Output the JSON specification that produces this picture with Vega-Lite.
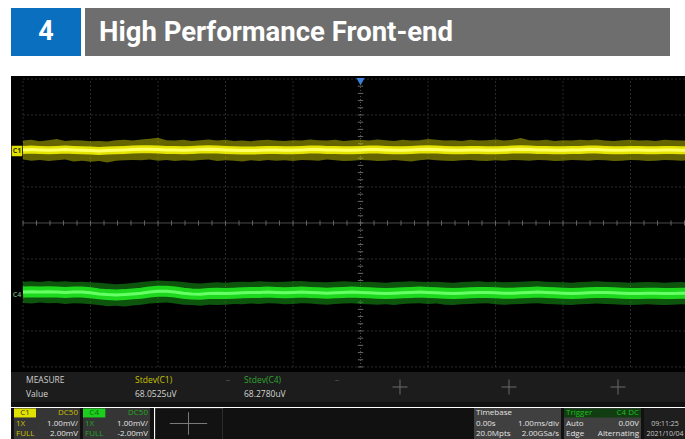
{
"$schema":"https://vega.github.io/schema/vega-lite/v6.json",
"background":"#ffffff",
"padding":{"left":11,"top":8,"right":0,"bottom":0},
"spacing":20,
"config":{"view":{"stroke":null},"axis":{"disable":true},"legend":{"disable":true},"concat":{"spacing":0},"text":{"font":"Open Sans"}},
"datasets":{
"traces":[
{"ch":"C1","t":-5,"c":2.03,"lo":1.76,"hi":2.29},{"ch":"C1","t":-4.875,"c":2.04,"lo":1.73,"hi":2.31},{"ch":"C1","t":-4.75,"c":2.03,"lo":1.75,"hi":2.27},{"ch":"C1","t":-4.625,"c":2.02,"lo":1.72,"hi":2.3},{"ch":"C1","t":-4.5,"c":2.03,"lo":1.74,"hi":2.33},{"ch":"C1","t":-4.375,"c":2.04,"lo":1.76,"hi":2.28},{"ch":"C1","t":-4.25,"c":2.03,"lo":1.71,"hi":2.3},{"ch":"C1","t":-4.125,"c":2.02,"lo":1.73,"hi":2.29},{"ch":"C1","t":-4,"c":2.01,"lo":1.7,"hi":2.27},{"ch":"C1","t":-3.875,"c":2,"lo":1.72,"hi":2.28},{"ch":"C1","t":-3.75,"c":2.01,"lo":1.68,"hi":2.26},{"ch":"C1","t":-3.625,"c":2.02,"lo":1.73,"hi":2.3},{"ch":"C1","t":-3.5,"c":2.03,"lo":1.74,"hi":2.31},{"ch":"C1","t":-3.375,"c":2.04,"lo":1.75,"hi":2.29},{"ch":"C1","t":-3.25,"c":2.05,"lo":1.74,"hi":2.32},{"ch":"C1","t":-3.125,"c":2.05,"lo":1.76,"hi":2.34},{"ch":"C1","t":-3,"c":2.04,"lo":1.73,"hi":2.37},{"ch":"C1","t":-2.875,"c":2.03,"lo":1.75,"hi":2.3},{"ch":"C1","t":-2.75,"c":2.03,"lo":1.72,"hi":2.29},{"ch":"C1","t":-2.625,"c":2.02,"lo":1.74,"hi":2.31},{"ch":"C1","t":-2.5,"c":2.03,"lo":1.73,"hi":2.28},{"ch":"C1","t":-2.375,"c":2.04,"lo":1.75,"hi":2.3},{"ch":"C1","t":-2.25,"c":2.05,"lo":1.76,"hi":2.32},{"ch":"C1","t":-2.125,"c":2.04,"lo":1.72,"hi":2.29},{"ch":"C1","t":-2,"c":2.03,"lo":1.74,"hi":2.31},{"ch":"C1","t":-1.875,"c":2.02,"lo":1.73,"hi":2.28},{"ch":"C1","t":-1.75,"c":2.01,"lo":1.71,"hi":2.29},{"ch":"C1","t":-1.625,"c":2.01,"lo":1.74,"hi":2.27},{"ch":"C1","t":-1.5,"c":2.02,"lo":1.72,"hi":2.3},{"ch":"C1","t":-1.375,"c":2.03,"lo":1.75,"hi":2.31},{"ch":"C1","t":-1.25,"c":2.03,"lo":1.73,"hi":2.29},{"ch":"C1","t":-1.125,"c":2.02,"lo":1.74,"hi":2.28},{"ch":"C1","t":-1,"c":2.02,"lo":1.72,"hi":2.3},{"ch":"C1","t":-0.875,"c":2.03,"lo":1.75,"hi":2.29},{"ch":"C1","t":-0.75,"c":2.04,"lo":1.74,"hi":2.32},{"ch":"C1","t":-0.625,"c":2.04,"lo":1.73,"hi":2.3},{"ch":"C1","t":-0.5,"c":2.03,"lo":1.76,"hi":2.29},{"ch":"C1","t":-0.375,"c":2.03,"lo":1.74,"hi":2.31},{"ch":"C1","t":-0.25,"c":2.02,"lo":1.72,"hi":2.28},{"ch":"C1","t":-0.125,"c":2.02,"lo":1.73,"hi":2.3},{"ch":"C1","t":0,"c":2.03,"lo":1.75,"hi":2.31},{"ch":"C1","t":0.125,"c":2.04,"lo":1.74,"hi":2.29},{"ch":"C1","t":0.25,"c":2.04,"lo":1.72,"hi":2.32},{"ch":"C1","t":0.375,"c":2.03,"lo":1.73,"hi":2.3},{"ch":"C1","t":0.5,"c":2.02,"lo":1.75,"hi":2.28},{"ch":"C1","t":0.625,"c":2.02,"lo":1.73,"hi":2.31},{"ch":"C1","t":0.75,"c":2.03,"lo":1.71,"hi":2.29},{"ch":"C1","t":0.875,"c":2.04,"lo":1.74,"hi":2.3},{"ch":"C1","t":1,"c":2.05,"lo":1.76,"hi":2.33},{"ch":"C1","t":1.125,"c":2.04,"lo":1.74,"hi":2.31},{"ch":"C1","t":1.25,"c":2.03,"lo":1.73,"hi":2.29},{"ch":"C1","t":1.375,"c":2.02,"lo":1.72,"hi":2.3},{"ch":"C1","t":1.5,"c":2.02,"lo":1.74,"hi":2.28},{"ch":"C1","t":1.625,"c":2.03,"lo":1.75,"hi":2.31},{"ch":"C1","t":1.75,"c":2.03,"lo":1.73,"hi":2.29},{"ch":"C1","t":1.875,"c":2.02,"lo":1.72,"hi":2.3},{"ch":"C1","t":2,"c":2.02,"lo":1.74,"hi":2.32},{"ch":"C1","t":2.125,"c":2.03,"lo":1.73,"hi":2.29},{"ch":"C1","t":2.25,"c":2.04,"lo":1.75,"hi":2.31},{"ch":"C1","t":2.375,"c":2.05,"lo":1.74,"hi":2.36},{"ch":"C1","t":2.5,"c":2.04,"lo":1.73,"hi":2.3},{"ch":"C1","t":2.625,"c":2.03,"lo":1.75,"hi":2.29},{"ch":"C1","t":2.75,"c":2.03,"lo":1.74,"hi":2.31},{"ch":"C1","t":2.875,"c":2.02,"lo":1.72,"hi":2.28},{"ch":"C1","t":3,"c":2.02,"lo":1.73,"hi":2.3},{"ch":"C1","t":3.125,"c":2.03,"lo":1.75,"hi":2.29},{"ch":"C1","t":3.25,"c":2.03,"lo":1.74,"hi":2.31},{"ch":"C1","t":3.375,"c":2.04,"lo":1.73,"hi":2.3},{"ch":"C1","t":3.5,"c":2.04,"lo":1.75,"hi":2.32},{"ch":"C1","t":3.625,"c":2.03,"lo":1.74,"hi":2.29},{"ch":"C1","t":3.75,"c":2.02,"lo":1.72,"hi":2.28},{"ch":"C1","t":3.875,"c":2.02,"lo":1.73,"hi":2.3},{"ch":"C1","t":4,"c":2.03,"lo":1.75,"hi":2.31},{"ch":"C1","t":4.125,"c":2.03,"lo":1.74,"hi":2.29},{"ch":"C1","t":4.25,"c":2.02,"lo":1.72,"hi":2.3},{"ch":"C1","t":4.375,"c":2.02,"lo":1.73,"hi":2.28},{"ch":"C1","t":4.5,"c":2.03,"lo":1.75,"hi":2.31},{"ch":"C1","t":4.625,"c":2.03,"lo":1.74,"hi":2.3},{"ch":"C1","t":4.75,"c":2.02,"lo":1.73,"hi":2.29},{"ch":"C1","t":4.875,"c":2.02,"lo":1.74,"hi":2.3},
{"ch":"C4","t":-5,"c":-1.92,"lo":-2.22,"hi":-1.63},{"ch":"C4","t":-4.875,"c":-1.91,"lo":-2.24,"hi":-1.62},{"ch":"C4","t":-4.75,"c":-1.92,"lo":-2.21,"hi":-1.64},{"ch":"C4","t":-4.625,"c":-1.91,"lo":-2.23,"hi":-1.61},{"ch":"C4","t":-4.5,"c":-1.92,"lo":-2.22,"hi":-1.63},{"ch":"C4","t":-4.375,"c":-1.93,"lo":-2.25,"hi":-1.62},{"ch":"C4","t":-4.25,"c":-1.92,"lo":-2.23,"hi":-1.64},{"ch":"C4","t":-4.125,"c":-1.92,"lo":-2.24,"hi":-1.63},{"ch":"C4","t":-4,"c":-1.94,"lo":-2.26,"hi":-1.65},{"ch":"C4","t":-3.875,"c":-1.97,"lo":-2.28,"hi":-1.66},{"ch":"C4","t":-3.75,"c":-1.99,"lo":-2.31,"hi":-1.68},{"ch":"C4","t":-3.625,"c":-2,"lo":-2.3,"hi":-1.7},{"ch":"C4","t":-3.5,"c":-1.99,"lo":-2.32,"hi":-1.69},{"ch":"C4","t":-3.375,"c":-1.97,"lo":-2.29,"hi":-1.67},{"ch":"C4","t":-3.25,"c":-1.95,"lo":-2.27,"hi":-1.64},{"ch":"C4","t":-3.125,"c":-1.92,"lo":-2.24,"hi":-1.62},{"ch":"C4","t":-3,"c":-1.9,"lo":-2.22,"hi":-1.6},{"ch":"C4","t":-2.875,"c":-1.9,"lo":-2.21,"hi":-1.61},{"ch":"C4","t":-2.75,"c":-1.92,"lo":-2.24,"hi":-1.62},{"ch":"C4","t":-2.625,"c":-1.95,"lo":-2.27,"hi":-1.64},{"ch":"C4","t":-2.5,"c":-1.97,"lo":-2.28,"hi":-1.67},{"ch":"C4","t":-2.375,"c":-1.98,"lo":-2.3,"hi":-1.68},{"ch":"C4","t":-2.25,"c":-1.96,"lo":-2.27,"hi":-1.66},{"ch":"C4","t":-2.125,"c":-1.95,"lo":-2.28,"hi":-1.65},{"ch":"C4","t":-2,"c":-1.96,"lo":-2.27,"hi":-1.66},{"ch":"C4","t":-1.875,"c":-1.95,"lo":-2.25,"hi":-1.64},{"ch":"C4","t":-1.75,"c":-1.94,"lo":-2.26,"hi":-1.63},{"ch":"C4","t":-1.625,"c":-1.93,"lo":-2.24,"hi":-1.64},{"ch":"C4","t":-1.5,"c":-1.93,"lo":-2.25,"hi":-1.62},{"ch":"C4","t":-1.375,"c":-1.92,"lo":-2.23,"hi":-1.63},{"ch":"C4","t":-1.25,"c":-1.93,"lo":-2.24,"hi":-1.64},{"ch":"C4","t":-1.125,"c":-1.94,"lo":-2.26,"hi":-1.63},{"ch":"C4","t":-1,"c":-1.93,"lo":-2.25,"hi":-1.62},{"ch":"C4","t":-0.875,"c":-1.92,"lo":-2.23,"hi":-1.61},{"ch":"C4","t":-0.75,"c":-1.93,"lo":-2.24,"hi":-1.63},{"ch":"C4","t":-0.625,"c":-1.94,"lo":-2.26,"hi":-1.64},{"ch":"C4","t":-0.5,"c":-1.95,"lo":-2.27,"hi":-1.65},{"ch":"C4","t":-0.375,"c":-1.94,"lo":-2.25,"hi":-1.63},{"ch":"C4","t":-0.25,"c":-1.93,"lo":-2.24,"hi":-1.62},{"ch":"C4","t":-0.125,"c":-1.92,"lo":-2.23,"hi":-1.63},{"ch":"C4","t":0,"c":-1.93,"lo":-2.25,"hi":-1.64},{"ch":"C4","t":0.125,"c":-1.94,"lo":-2.26,"hi":-1.63},{"ch":"C4","t":0.25,"c":-1.95,"lo":-2.27,"hi":-1.65},{"ch":"C4","t":0.375,"c":-1.96,"lo":-2.26,"hi":-1.66},{"ch":"C4","t":0.5,"c":-1.95,"lo":-2.28,"hi":-1.64},{"ch":"C4","t":0.625,"c":-1.94,"lo":-2.25,"hi":-1.63},{"ch":"C4","t":0.75,"c":-1.93,"lo":-2.24,"hi":-1.62},{"ch":"C4","t":0.875,"c":-1.92,"lo":-2.23,"hi":-1.63},{"ch":"C4","t":1,"c":-1.93,"lo":-2.25,"hi":-1.64},{"ch":"C4","t":1.125,"c":-1.94,"lo":-2.24,"hi":-1.63},{"ch":"C4","t":1.25,"c":-1.95,"lo":-2.27,"hi":-1.65},{"ch":"C4","t":1.375,"c":-1.96,"lo":-2.28,"hi":-1.66},{"ch":"C4","t":1.5,"c":-1.95,"lo":-2.26,"hi":-1.64},{"ch":"C4","t":1.625,"c":-1.94,"lo":-2.25,"hi":-1.63},{"ch":"C4","t":1.75,"c":-1.93,"lo":-2.24,"hi":-1.62},{"ch":"C4","t":1.875,"c":-1.93,"lo":-2.23,"hi":-1.64},{"ch":"C4","t":2,"c":-1.94,"lo":-2.26,"hi":-1.63},{"ch":"C4","t":2.125,"c":-1.95,"lo":-2.27,"hi":-1.65},{"ch":"C4","t":2.25,"c":-1.95,"lo":-2.26,"hi":-1.64},{"ch":"C4","t":2.375,"c":-1.94,"lo":-2.25,"hi":-1.63},{"ch":"C4","t":2.5,"c":-1.93,"lo":-2.24,"hi":-1.62},{"ch":"C4","t":2.625,"c":-1.92,"lo":-2.23,"hi":-1.61},{"ch":"C4","t":2.75,"c":-1.93,"lo":-2.25,"hi":-1.63},{"ch":"C4","t":2.875,"c":-1.94,"lo":-2.26,"hi":-1.64},{"ch":"C4","t":3,"c":-1.95,"lo":-2.27,"hi":-1.65},{"ch":"C4","t":3.125,"c":-1.96,"lo":-2.28,"hi":-1.66},{"ch":"C4","t":3.25,"c":-1.95,"lo":-2.26,"hi":-1.64},{"ch":"C4","t":3.375,"c":-1.94,"lo":-2.25,"hi":-1.63},{"ch":"C4","t":3.5,"c":-1.93,"lo":-2.24,"hi":-1.62},{"ch":"C4","t":3.625,"c":-1.93,"lo":-2.25,"hi":-1.63},{"ch":"C4","t":3.75,"c":-1.94,"lo":-2.26,"hi":-1.64},{"ch":"C4","t":3.875,"c":-1.95,"lo":-2.27,"hi":-1.65},{"ch":"C4","t":4,"c":-1.96,"lo":-2.28,"hi":-1.66},{"ch":"C4","t":4.125,"c":-1.96,"lo":-2.27,"hi":-1.65},{"ch":"C4","t":4.25,"c":-1.95,"lo":-2.26,"hi":-1.64},{"ch":"C4","t":4.375,"c":-1.95,"lo":-2.27,"hi":-1.65},{"ch":"C4","t":4.5,"c":-1.96,"lo":-2.28,"hi":-1.66},{"ch":"C4","t":4.625,"c":-1.96,"lo":-2.27,"hi":-1.65},{"ch":"C4","t":4.75,"c":-1.95,"lo":-2.26,"hi":-1.64},{"ch":"C4","t":4.875,"c":-1.95,"lo":-2.27,"hi":-1.65}
],
"xminor":[-5,-4.8,-4.6,-4.4,-4.2,-4,-3.8,-3.6,-3.4,-3.2,-3,-2.8,-2.6,-2.4,-2.2,-2,-1.8,-1.6,-1.4,-1.2,-1,-0.8,-0.6,-0.4,-0.2,0,0.2,0.4,0.6,0.8,1,1.2,1.4,1.6,1.8,2,2.2,2.4,2.6,2.8,3,3.2,3.4,3.6,3.8,4,4.2,4.4,4.6,4.8],
"yminor":[-4,-3.8,-3.6,-3.4,-3.2,-3,-2.8,-2.6,-2.4,-2.2,-2,-1.8,-1.6,-1.4,-1.2,-1,-0.8,-0.6,-0.4,-0.2,0,0.2,0.4,0.6,0.8,1,1.2,1.4,1.6,1.8,2,2.2,2.4,2.6,2.8,3,3.2,3.4,3.6,3.8,4]
},
"vconcat":[
{"hconcat":[
 {"width":70,"height":48,"view":{"fill":"#0b6fbf","stroke":null},"data":{"values":[{"n":"4"}]},"mark":{"type":"text","color":"#ffffff","font":"Roboto","fontWeight":"bold","fontSize":27},"encoding":{"text":{"field":"n"}}},
 {"width":585,"height":48,"view":{"fill":"#6e6e6e","stroke":null},"data":{"values":[{"title":"High Performance Front-end"}]},"mark":{"type":"text","color":"#ffffff","font":"Roboto","fontWeight":"bold","fontSize":27.5,"align":"left","dx":14,"dy":1},"encoding":{"text":{"field":"title"},"x":{"value":0}}}
],"spacing":4},
{"vconcat":[
 {"width":674,"height":296,"view":{"fill":"#000000","stroke":null},
  "layer":[
   {"data":{"values":[-5,-4,-3,-2,-1,1,2,3,4]},"mark":{"type":"rule","color":"#2a2a2a","strokeDash":[2,2]},
    "encoding":{"x":{"field":"data","type":"quantitative","scale":{"domain":[-5.178,4.807],"nice":false,"zero":false},"axis":null},"y":{"datum":-4,"type":"quantitative","scale":{"domain":[-4.14,4.083],"nice":false,"zero":false},"axis":null},"y2":{"datum":4}}},
   {"data":{"values":[-4,-3,-2,-1,1,2,3,4]},"mark":{"type":"rule","color":"#2a2a2a","strokeDash":[2,2],"clip":true},
    "encoding":{"y":{"field":"data","type":"quantitative"},"x":{"datum":-5,"type":"quantitative"},"x2":{"datum":5}}},
   {"data":{"values":[{}]},"mark":{"type":"rule","color":"#4a4a4a","clip":true},
    "encoding":{"y":{"datum":0,"type":"quantitative"},"x":{"datum":-5,"type":"quantitative"},"x2":{"datum":5}}},
   {"data":{"values":[{}]},"mark":{"type":"rule","color":"#555555","strokeDash":[1,2]},
    "encoding":{"x":{"datum":0,"type":"quantitative"},"y":{"datum":-4,"type":"quantitative"},"y2":{"datum":4}}},
   {"data":{"name":"xminor"},"mark":{"type":"rule","color":"#666666"},
    "encoding":{"x":{"field":"data","type":"quantitative"},"y":{"datum":-0.07,"type":"quantitative"},"y2":{"datum":0.07}}},
   {"data":{"name":"yminor"},"mark":{"type":"rule","color":"#666666"},
    "encoding":{"y":{"field":"data","type":"quantitative"},"x":{"datum":-0.04,"type":"quantitative"},"x2":{"datum":0.04}}},
   {"data":{"name":"traces"},"mark":{"type":"area","opacity":0.5,"clip":true},
    "encoding":{"x":{"field":"t","type":"quantitative"},"y":{"field":"hi","type":"quantitative"},"y2":{"field":"lo"},"fill":{"field":"ch","type":"nominal","scale":{"domain":["C1","C4"],"range":["#c8c800","#1aa81a"]},"legend":null}}},
   {"data":{"name":"traces"},"mark":{"type":"line","clip":true},
    "encoding":{"x":{"field":"t","type":"quantitative"},"y":{"field":"c","type":"quantitative"},"stroke":{"field":"ch","type":"nominal","scale":{"domain":["C1","C4"],"range":["#e4e400","#1ed81e"]},"legend":null},"strokeWidth":{"field":"ch","type":"nominal","scale":{"domain":["C1","C4"],"range":[8,11]},"legend":null}}},
   {"data":{"name":"traces"},"mark":{"type":"line","clip":true,"strokeWidth":3},
    "encoding":{"x":{"field":"t","type":"quantitative"},"y":{"field":"c","type":"quantitative"},"color":{"field":"ch","type":"nominal","scale":{"domain":["C1","C4"],"range":["#ffff66","#66ff66"]},"legend":null}}},
   {"data":{"values":[{"ch":"C1","level":2}]},"mark":{"type":"point","shape":"square","filled":true,"color":"#e0e000","size":110,"opacity":1},
    "encoding":{"x":{"datum":-5.09,"type":"quantitative"},"y":{"field":"level","type":"quantitative"}}},
   {"data":{"values":[{"ch":"C1","level":2},{"ch":"C4","level":-2}]},"mark":{"type":"text","fontSize":7,"fontWeight":"bold"},
    "encoding":{"x":{"datum":-5.09,"type":"quantitative"},"y":{"field":"level","type":"quantitative"},"text":{"field":"ch"},"color":{"condition":{"test":"datum.ch==='C1'","value":"#3a3a00"},"value":"#5d8d5d"}}},
   {"data":{"values":[{}]},"mark":{"type":"point","shape":"triangle-down","filled":true,"color":"#3b7fd9","size":70,"opacity":1},
    "encoding":{"x":{"datum":0,"type":"quantitative"},"y":{"datum":3.93,"type":"quantitative"}}}
  ]},
 {"width":674,"height":30,"view":{"fill":"#1c1c1c","stroke":null},
  "layer":[
   {"data":{"values":[{"col":0,"name":"MEASURE","value":"Value","ch":"none"},{"col":1,"name":"Stdev(C1)","value":"68.0525uV","ch":"C1"},{"col":2,"name":"Stdev(C4)","value":"68.2780uV","ch":"C4"}]},
    "layer":[
     {"mark":{"type":"text","align":"left","fontSize":8.5},
      "encoding":{"x":{"field":"col","type":"quantitative","scale":{"domain":[-0.1376,6.046],"nice":false,"zero":false},"axis":null},"y":{"datum":"name","type":"nominal","scale":{"type":"point","domain":["name","value"],"padding":0.6},"axis":null},"text":{"field":"name"},"color":{"condition":[{"test":"datum.ch==='C1'","value":"#c8c200"},{"test":"datum.ch==='C4'","value":"#2fa52f"}],"value":"#cfcfcf"}}},
     {"mark":{"type":"text","align":"left","fontSize":8.5,"color":"#d6d6d6"},
      "encoding":{"x":{"field":"col","type":"quantitative"},"y":{"datum":"value","type":"nominal"},"text":{"field":"value"}}},
     {"transform":[{"filter":"datum.ch!=='none'"}],"mark":{"type":"text","text":"–","dx":93,"color":"#555555","fontSize":9},
      "encoding":{"x":{"field":"col","type":"quantitative"},"y":{"datum":"name","type":"nominal"}}}
    ]},
   {"data":{"values":[{"col":3},{"col":4},{"col":5}]},"mark":{"type":"point","shape":"M-1,0H1M0,-1V1","filled":false,"stroke":"#6a6a6a","strokeWidth":1,"size":225,"xOffset":47,"opacity":1},
    "encoding":{"x":{"field":"col","type":"quantitative","scale":{"domain":[-0.1376,6.046],"nice":false,"zero":false}}}}
  ]},
 {"width":674,"height":5,"view":{"fill":"#111111","stroke":null},"data":{"values":[]},"mark":"point"},
 {"hconcat":[
  {"width":3,"height":31,"view":{"fill":"#111111","stroke":null},"data":{"values":[]},"mark":"point"},
  {"width":66,"height":31,"view":{"fill":"#353535","stroke":null},
   "data":{"values":[{"col":"a","r":0,"label":"C1"},{"col":"c","r":0,"label":"DC50"},{"col":"a","r":1,"label":"1X"},{"col":"c","r":1,"label":"1.00mV/"},{"col":"a","r":2,"label":"FULL"},{"col":"c","r":2,"label":"2.00mV"}]},
   "layer":[
    {"transform":[{"filter":"datum.r===0 && datum.col==='a'"}],"mark":{"type":"bar","color":"#e2e200"},
     "encoding":{"x":{"field":"col","type":"nominal","scale":{"type":"band","domain":["a","b","c"],"paddingInner":0,"paddingOuter":0}},"y":{"field":"r","type":"ordinal","scale":{"type":"band","domain":[0,1,2],"paddingInner":0.15,"paddingOuter":0.05}}}},
    {"transform":[{"filter":"datum.r===0 && datum.col==='a'"}],"mark":{"type":"text","color":"#3a3a00","fontSize":8},
     "encoding":{"x":{"field":"col","type":"nominal","bandPosition":0.5},"y":{"field":"r","type":"ordinal","bandPosition":0.5},"text":{"field":"label"}}},
    {"transform":[{"filter":"datum.r>0 && datum.col==='a'"}],"mark":{"type":"text","align":"left","dx":2,"color":"#c9c000","fontSize":8},
     "encoding":{"x":{"field":"col","type":"nominal","bandPosition":0},"y":{"field":"r","type":"ordinal","bandPosition":0.5},"text":{"field":"label"}}},
    {"transform":[{"filter":"datum.col==='c'"}],"mark":{"type":"text","align":"right","dx":-2,"fontSize":8},
     "encoding":{"x":{"field":"col","type":"nominal","bandPosition":1},"y":{"field":"r","type":"ordinal","bandPosition":0.5},"text":{"field":"label"},"color":{"condition":{"test":"datum.r===0","value":"#c9c000"},"value":"#e4e4e4"}}}
   ]},
  {"width":3,"height":31,"view":{"fill":"#111111","stroke":null},"data":{"values":[]},"mark":"point"},
  {"width":67,"height":31,"view":{"fill":"#353535","stroke":null},
   "data":{"values":[{"col":"a","r":0,"label":"C4"},{"col":"c","r":0,"label":"DC50"},{"col":"a","r":1,"label":"1X"},{"col":"c","r":1,"label":"1.00mV/"},{"col":"a","r":2,"label":"FULL"},{"col":"c","r":2,"label":"-2.00mV"}]},
   "layer":[
    {"transform":[{"filter":"datum.r===0 && datum.col==='a'"}],"mark":{"type":"bar","color":"#1ccf1c"},
     "encoding":{"x":{"field":"col","type":"nominal","scale":{"type":"band","domain":["a","b","c"],"paddingInner":0,"paddingOuter":0}},"y":{"field":"r","type":"ordinal","scale":{"type":"band","domain":[0,1,2],"paddingInner":0.15,"paddingOuter":0.05}}}},
    {"transform":[{"filter":"datum.r===0 && datum.col==='a'"}],"mark":{"type":"text","color":"#0a6a0a","fontSize":8},
     "encoding":{"x":{"field":"col","type":"nominal","bandPosition":0.5},"y":{"field":"r","type":"ordinal","bandPosition":0.5},"text":{"field":"label"}}},
    {"transform":[{"filter":"datum.r>0 && datum.col==='a'"}],"mark":{"type":"text","align":"left","dx":2,"color":"#22a822","fontSize":8},
     "encoding":{"x":{"field":"col","type":"nominal","bandPosition":0},"y":{"field":"r","type":"ordinal","bandPosition":0.5},"text":{"field":"label"}}},
    {"transform":[{"filter":"datum.col==='c'"}],"mark":{"type":"text","align":"right","dx":-2,"fontSize":8},
     "encoding":{"x":{"field":"col","type":"nominal","bandPosition":1},"y":{"field":"r","type":"ordinal","bandPosition":0.5},"text":{"field":"label"},"color":{"condition":{"test":"datum.r===0","value":"#22a822"},"value":"#e4e4e4"}}}
   ]},
  {"width":4,"height":31,"view":{"fill":"#111111","stroke":null},"data":{"values":[]},"mark":"point"},
  {"width":67,"height":31,"view":{"fill":"#121212","stroke":"#2c2c2c"},"data":{"values":[{}]},
   "mark":{"type":"point","shape":"M-1,0H1M0,-0.6V0.6","filled":false,"stroke":"#7a7a7a","strokeWidth":1,"size":1400,"opacity":1}},
  {"width":251,"height":31,"view":{"fill":"#111111","stroke":null},"data":{"values":[]},"mark":"point"},
  {"width":87,"height":31,"view":{"fill":"#404040","stroke":null},
   "data":{"values":[{"col":"a","r":0,"label":"Timebase"},{"col":"a","r":1,"label":"0.00s"},{"col":"c","r":1,"label":"1.00ms/div"},{"col":"a","r":2,"label":"20.0Mpts"},{"col":"c","r":2,"label":"2.00GSa/s"}]},
   "layer":[
    {"transform":[{"filter":"datum.col==='a'"}],"mark":{"type":"text","align":"left","dx":2,"color":"#e4e4e4","fontSize":8},
     "encoding":{"x":{"field":"col","type":"nominal","bandPosition":0,"scale":{"type":"band","domain":["a","b","c"],"paddingInner":0,"paddingOuter":0}},"y":{"field":"r","type":"ordinal","bandPosition":0.5,"scale":{"type":"band","domain":[0,1,2],"paddingInner":0.15,"paddingOuter":0.05}},"text":{"field":"label"}}},
    {"transform":[{"filter":"datum.col==='c'"}],"mark":{"type":"text","align":"right","dx":-2,"color":"#e4e4e4","fontSize":8},
     "encoding":{"x":{"field":"col","type":"nominal","bandPosition":1},"y":{"field":"r","type":"ordinal","bandPosition":0.5},"text":{"field":"label"}}}
   ]},
  {"width":3,"height":31,"view":{"fill":"#111111","stroke":null},"data":{"values":[]},"mark":"point"},
  {"width":77,"height":31,"view":{"fill":"#404040","stroke":null},
   "data":{"values":[{"col":"a","r":0,"label":"Trigger"},{"col":"c","r":0,"label":"C4 DC"},{"col":"a","r":1,"label":"Auto"},{"col":"c","r":1,"label":"0.00V"},{"col":"a","r":2,"label":"Edge"},{"col":"c","r":2,"label":"Alternating"}]},
   "layer":[
    {"transform":[{"filter":"datum.r===0 && datum.col==='a'"}],"mark":{"type":"bar","color":"#123d12"},
     "encoding":{"y":{"field":"r","type":"ordinal","scale":{"type":"band","domain":[0,1,2],"paddingInner":0.15,"paddingOuter":0.05}}}},
    {"transform":[{"filter":"datum.col==='a'"}],"mark":{"type":"text","align":"left","dx":2,"fontSize":8},
     "encoding":{"x":{"field":"col","type":"nominal","bandPosition":0,"scale":{"type":"band","domain":["a","b","c"],"paddingInner":0,"paddingOuter":0}},"y":{"field":"r","type":"ordinal","bandPosition":0.5},"text":{"field":"label"},"color":{"condition":{"test":"datum.r===0","value":"#1fbf1f"},"value":"#e4e4e4"}}},
    {"transform":[{"filter":"datum.col==='c'"}],"mark":{"type":"text","align":"right","dx":-2,"fontSize":8},
     "encoding":{"x":{"field":"col","type":"nominal","bandPosition":1},"y":{"field":"r","type":"ordinal","bandPosition":0.5},"text":{"field":"label"},"color":{"condition":{"test":"datum.r===0","value":"#1fbf1f"},"value":"#e4e4e4"}}}
   ]},
  {"width":3,"height":31,"view":{"fill":"#111111","stroke":null},"data":{"values":[]},"mark":"point"},
  {"width":42,"height":31,"view":{"fill":"#1e1e1e","stroke":null},
   "data":{"values":[{"r":1,"label":"09:11:25"},{"r":2,"label":"2021/10/04"}]},
   "mark":{"type":"text","color":"#c8c8c8","fontSize":7},
   "encoding":{"y":{"field":"r","type":"ordinal","bandPosition":0.5,"scale":{"type":"band","domain":[0,1,2],"paddingInner":0.15,"paddingOuter":0.05}},"text":{"field":"label"}}}
 ]}
],"spacing":0}
]
}
